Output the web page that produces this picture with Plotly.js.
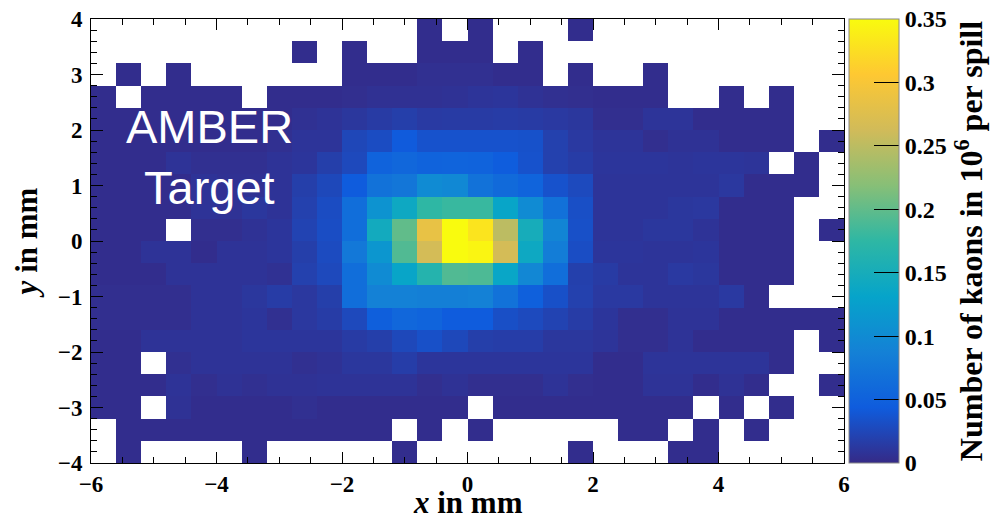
<!DOCTYPE html>
<html>
<head>
<meta charset="utf-8">
<script src="https://cdn.plot.ly/plotly-3.0.1.min.js"></script>
<style>
  html, body { margin: 0; padding: 0; background: #fff; }
  #plot { width: 992px; height: 521px; }
</style>
</head>
<body>
<div id="plot"></div>
<script>
// Bin centres of the 2D histogram (0.4 mm bins)
const xCenters = [-5.8, -5.4, -5.0, -4.6, -4.2, -3.8, -3.4, -3.0, -2.6, -2.2,
                  -1.8, -1.4, -1.0, -0.6, -0.2, 0.2, 0.6, 1.0, 1.4, 1.8,
                  2.2, 2.6, 3.0, 3.4, 3.8, 4.2, 4.6, 5.0, 5.4, 5.8];
const yCenters = [3.8, 3.4, 3.0, 2.6, 2.2, 1.8, 1.4, 1.0, 0.6, 0.2,
                  -0.2, -0.6, -1.0, -1.4, -1.8, -2.2, -2.6, -3.0, -3.4, -3.8];

// Kaons per spill (in 10^6) for each bin, rows from y = 3.8 down to y = -3.8.
// Empty bins are null and left undrawn.
const _ = null;
const kaonRate = [
  [_,_,_,_,_,_,_,_,_,_,_,_,_,.003,_,.003,_,_,_,.003,_,_,_,_,_,_,_,_,_,_],
  [_,_,_,_,_,_,_,_,.003,_,.003,_,_,.003,.003,.003,_,.003,_,_,_,_,_,_,_,_,_,_,_,_],
  [_,.003,_,.003,_,_,_,_,_,_,.003,.003,.003,.005,.005,.005,.003,.003,_,.003,_,_,.003,_,_,_,_,_,_,_],
  [.003,_,.003,.003,.003,.003,_,.003,.003,.003,.004,.006,.006,.006,.007,.009,.010,.007,.005,.004,.003,.003,.003,_,_,.003,_,.003,_,_],
  [.003,.003,.003,.003,.003,.003,.003,.003,.006,.008,.011,.015,.018,.014,.015,.015,.016,.015,.013,.011,.004,.004,.009,.009,.003,.003,.003,.003,_,_],
  [.003,.003,.003,.003,.003,.003,.003,.005,.009,.009,.025,.030,.043,.035,.035,.035,.035,.034,.020,.013,.009,.009,.004,.007,.007,.003,.003,.003,_,.003],
  [.003,.003,.003,.008,.005,.005,.005,.008,.010,.018,.027,.052,.057,.052,.053,.052,.045,.035,.020,.016,.010,.010,.010,.009,.010,.010,.009,_,.003,_],
  [.003,.003,.003,.003,.008,.006,.006,.008,.018,.026,.044,.070,.075,.100,.096,.070,.060,.053,.035,.028,.009,.009,.009,.009,.009,.012,.003,.003,.003,_],
  [.003,.003,.003,.003,.008,.007,.011,.008,.020,.030,.065,.110,.140,.175,.180,.180,.133,.100,.068,.032,.009,.009,.009,.011,.012,.003,.003,.003,_,_],
  [.003,.003,.003,_,.004,.004,.007,.010,.022,.031,.065,.145,.200,.285,.350,.330,.250,.150,.093,.033,.009,.009,.011,.011,.008,.003,.003,.003,_,.003],
  [.003,.003,.008,.008,.003,.008,.008,.010,.018,.029,.077,.114,.192,.265,.360,.345,.265,.140,.083,.031,.010,.010,.009,.009,.010,.003,.003,.003,_,_],
  [.003,.003,.003,.008,.008,.008,.008,.006,.020,.027,.065,.100,.133,.165,.192,.190,.135,.095,.065,.019,.015,.009,.009,.013,.011,.003,.003,.003,_,_],
  [.004,.004,.004,.004,.008,.008,.011,.016,.012,.018,.065,.088,.088,.085,.085,.088,.070,.048,.033,.020,.013,.013,.009,.009,.009,.013,.003,_,_,_],
  [.004,.004,.004,.004,.008,.008,.010,.005,.012,.016,.027,.047,.057,.053,.044,.044,.032,.028,.022,.016,.010,.004,.004,.008,.008,.003,.003,.003,.003,.003],
  [.003,.003,.008,.008,.008,.008,.010,.010,.010,.010,.015,.018,.026,.033,.026,.018,.017,.017,.011,.011,.009,.004,.004,.008,.003,.003,.003,.003,_,.003],
  [.003,.003,_,.005,.008,.008,.008,.008,.005,.007,.011,.011,.017,.010,.010,.010,.010,.010,.010,.010,.003,.003,.009,.009,.009,.009,.009,.003,_,_],
  [.003,.003,.003,.008,.004,.007,.005,.007,.007,.008,.008,.008,.008,.004,.007,.004,.004,.004,.008,.004,.003,.003,.008,.008,.003,.007,.003,_,_,.003],
  [.003,.003,_,.007,.003,.003,.003,.003,.005,.003,.003,.003,.003,.003,.003,_,.003,.003,.003,.003,.003,.003,.003,.003,_,.003,_,.003,_,_],
  [_,.003,.003,.003,.003,.003,.003,.003,.003,.003,.003,.003,_,.003,_,.003,_,_,_,_,_,.003,.003,_,.003,_,.003,_,_,_],
  [_,.003,_,_,_,_,.003,_,_,_,_,_,.003,_,_,_,_,_,_,.003,_,_,_,.003,.003,_,_,_,_,_]
];

// Colour bar range and ticks
const zRange = [0, 0.35];
const zTickStep = 0.05;

// "Bird" palette
const birdScale = [
  [0.000, 'rgb(53,42,135)'],
  [0.125, 'rgb(15,92,221)'],
  [0.250, 'rgb(20,129,214)'],
  [0.375, 'rgb(6,164,202)'],
  [0.500, 'rgb(46,183,164)'],
  [0.625, 'rgb(135,191,119)'],
  [0.750, 'rgb(209,187,89)'],
  [0.875, 'rgb(254,200,50)'],
  [1.000, 'rgb(249,251,14)']
];

const serif = '"Liberation Serif", "Times New Roman", serif';
const tickFont = { family: serif, size: 23, weight: 'bold', color: '#000' };
const cbTickFont = { family: serif, size: 24, weight: 'bold', color: '#000' };
const titleFont = { family: serif, size: 31, weight: 'bold', color: '#000' };
const cbTitleFont = { family: serif, size: 32, weight: 'bold', color: '#000' };
const labelFont = { family: '"Liberation Sans", Arial, sans-serif', size: 47, color: '#fff' };

const trace = {
  type: 'heatmap',
  x: xCenters,
  y: yCenters,
  z: kaonRate,
  zmin: zRange[0],
  zmax: zRange[1],
  zsmooth: false,
  colorscale: birdScale,
  hoverongaps: false,
  colorbar: {
    x: 1.00664, xanchor: 'left', xpad: 0,
    y: 0.5, yanchor: 'middle', ypad: 0,
    len: 1, lenmode: 'fraction',
    thickness: 50, thicknessmode: 'pixels',
    outlinewidth: 1, outlinecolor: '#888',
    ticks: 'inside', ticklen: 25, tickwidth: 1, tickcolor: '#000',
    tick0: 0, dtick: zTickStep,
    tickfont: cbTickFont,
    title: { text: 'Number of kaons in 10<sup>6</sup> per spill', side: 'right', font: cbTitleFont }
  }
};

const axisBase = {
  ticks: 'inside', tickwidth: 1, tickcolor: '#000',
  showline: true, linecolor: '#000', linewidth: 1, mirror: 'allticks',
  showgrid: false, zeroline: false,
  tickfont: tickFont
};

const layout = {
  width: 992, height: 521,
  margin: { l: 91, r: 148, t: 19, b: 58, autoexpand: false },
  paper_bgcolor: '#fff', plot_bgcolor: '#fff',
  showlegend: false,
  xaxis: Object.assign({}, axisBase, {
    range: [-6, 6], tick0: -6, dtick: 2, ticklen: 11,
    minor: { dtick: 0.5, ticklen: 6, ticks: 'inside', tickcolor: '#000', tickwidth: 1, showgrid: false }
  }),
  yaxis: Object.assign({}, axisBase, {
    range: [-4, 4], tick0: -4, dtick: 1, ticklen: 12,
    ticklabelstandoff: 3,
    minor: { dtick: 0.2, ticklen: 6, ticks: 'inside', tickcolor: '#000', tickwidth: 1, showgrid: false },
    title: { text: '<i>y</i> in mm', font: titleFont, standoff: 10 }
  }),
  annotations: [
    // x-axis title, set just under the tick labels
    { text: '<i>x</i> in mm', xref: 'paper', yref: 'paper', x: 0.5, y: -0.09,
      xanchor: 'center', yanchor: 'middle', showarrow: false, font: titleFont },
    { text: 'AMBER', xref: 'paper', yref: 'paper', x: 0.157, y: 0.757,
      xanchor: 'center', yanchor: 'middle', showarrow: false, font: labelFont },
    { text: 'Target', xref: 'paper', yref: 'paper', x: 0.157, y: 0.62,
      xanchor: 'center', yanchor: 'middle', showarrow: false, font: labelFont }
  ]
};

Plotly.newPlot('plot', [trace], layout, { displayModeBar: false, staticPlot: true });
</script>
</body>
</html>
